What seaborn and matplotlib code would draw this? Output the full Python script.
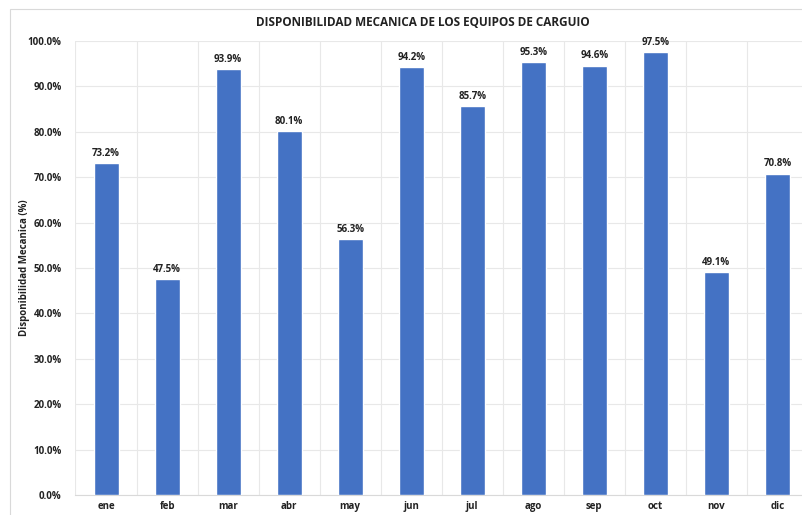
import matplotlib
matplotlib.use("Agg")
import matplotlib.pyplot as plt
import seaborn as sns
import pandas as pd
import numpy as np
from matplotlib.patches import Rectangle
from matplotlib.ticker import FuncFormatter, MultipleLocator

meses = ["ene", "feb", "mar", "abr", "may", "jun", "jul", "ago", "sep", "oct", "nov", "dic"]
disponibilidad = [73.2, 47.5, 93.9, 80.1, 56.3, 94.2, 85.7, 95.3, 94.6, 97.5, 49.1, 70.8]
titulo = "DISPONIBILIDAD MECANICA DE LOS EQUIPOS DE CARGUIO"
ylabel = "Disponibilidad Mecanica (%)"

df = pd.DataFrame({"mes": meses, "valor": disponibilidad})

sns.set_theme(style="white")
plt.rcParams["font.family"] = ["Open Sans", "DejaVu Sans"]

fig = plt.figure(figsize=(8.03, 5.15), dpi=100)
ax = fig.add_axes([75.5 / 803, 20 / 515, (808 - 75.5) / 803, (495 - 41) / 515])

sns.barplot(data=df, x="mes", y="valor", color="#4472C4", width=0.41,
            saturation=1, ax=ax, zorder=3)

ax.set_xlim(-0.5, 11.5)
ax.set_ylim(0, 100)
ax.yaxis.set_major_locator(MultipleLocator(10))
ax.yaxis.set_major_formatter(FuncFormatter(lambda v, p: f"{v:.1f}%"))
ax.set_xticks(np.arange(-0.5, 12, 1), minor=True)
ax.grid(axis="y", which="major", color="#e8e8e8", lw=0.8, zorder=0)
ax.grid(axis="x", which="minor", color="#e8e8e8", lw=0.8, zorder=0)
ax.grid(axis="x", which="major", visible=False)
ax.tick_params(axis="both", which="both", length=0)
ax.tick_params(axis="x", pad=4, labelsize=7)
ax.tick_params(axis="y", pad=10, labelsize=7)
for lab in ax.get_xticklabels() + ax.get_yticklabels():
    lab.set_fontweight("bold")
    lab.set_color("#222222")

for s in ["top", "right", "left"]:
    ax.spines[s].set_visible(False)
ax.spines["bottom"].set_color("#d9d9d9")
ax.spines["bottom"].set_linewidth(0.8)

ax.set_xlabel("")
ax.set_ylabel(ylabel, fontsize=7, fontweight="bold", color="#222222", labelpad=8)
ax.yaxis.set_label_coords(-0.062, 0.5)

for i, v in enumerate(disponibilidad):
    ax.text(i, v + 0.9, f"{v:.1f}%", ha="center", va="bottom", fontsize=7,
            fontweight="bold", color="#222222", zorder=4)

fig.text(0.5 * (75.5 + 803) / 803 - 0.02, 1 - 22 / 515, titulo, ha="center", va="center",
         fontsize=8.5, fontweight="bold", color="#222222")

fig.patches.append(Rectangle((10 / 803, -0.01), 1.0, 1 - 9 / 515 + 0.01,
                             transform=fig.transFigure, fill=False,
                             edgecolor="#d9d9d9", lw=0.8))

fig.savefig("out.png", dpi=100)
